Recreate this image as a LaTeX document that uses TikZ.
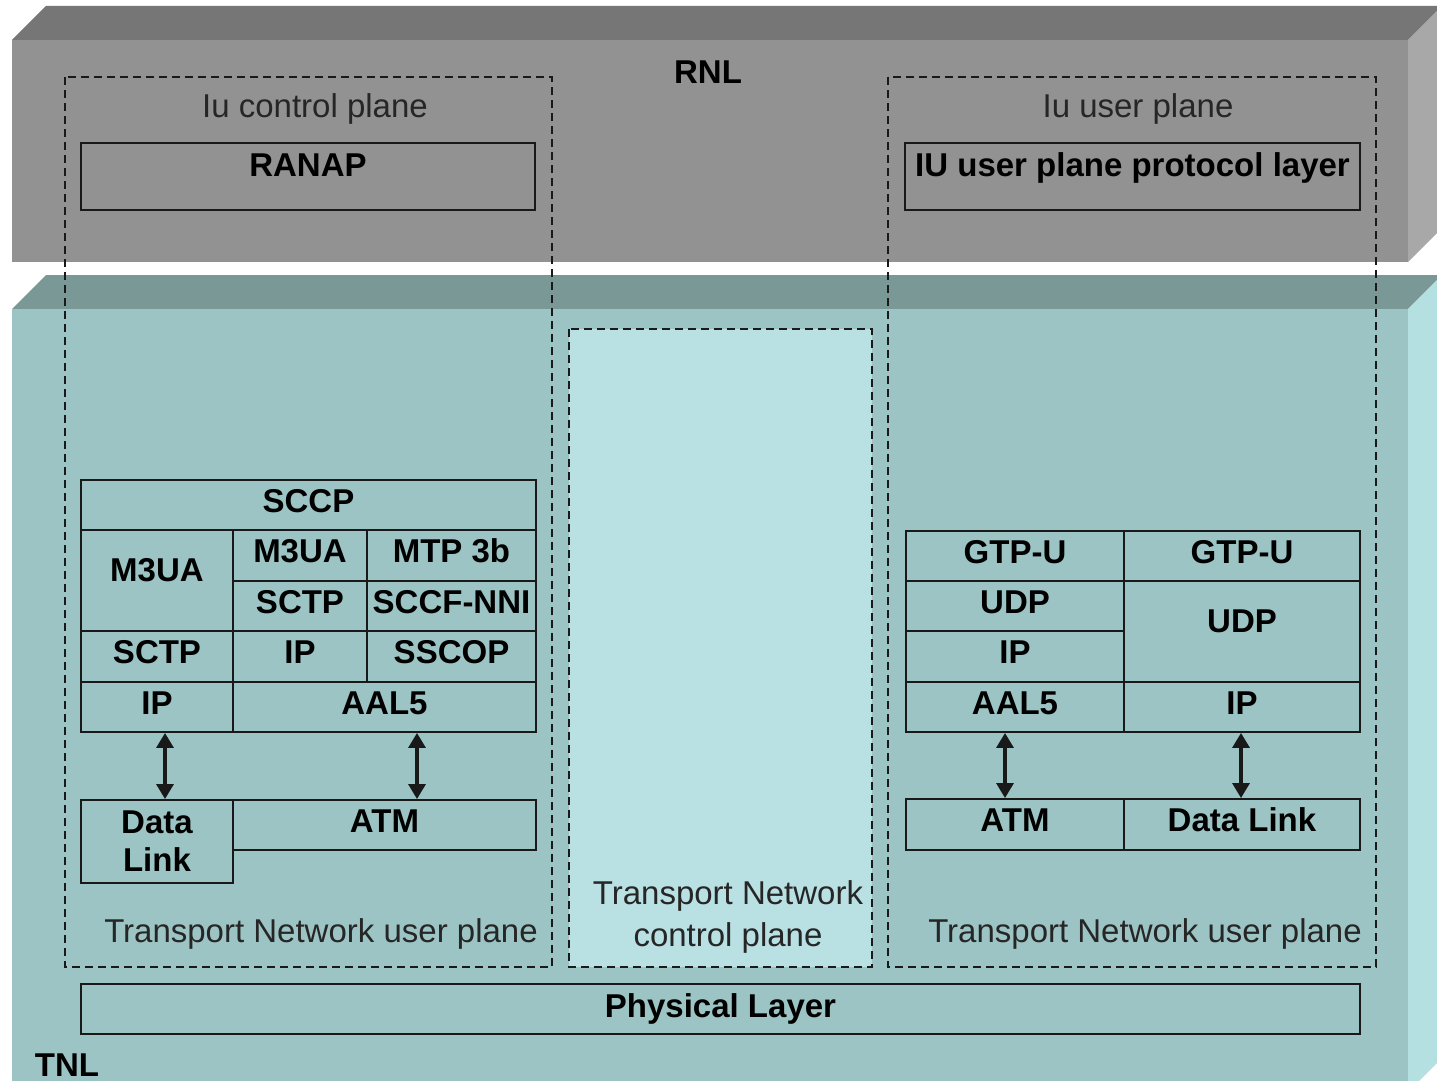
\documentclass[tikz,border=0pt]{standalone}
\usepackage{fontspec}
\setmainfont{Liberation Sans}
\usetikzlibrary{arrows.meta}
\definecolor{rnltop}{RGB}{118,118,118}
\definecolor{rnlfront}{RGB}{146,146,146}
\definecolor{rnlside}{RGB}{168,168,168}
\definecolor{tnltop}{RGB}{121,152,150}
\definecolor{tnlfront}{RGB}{156,196,196}
\definecolor{tnlside}{RGB}{180,224,226}
\definecolor{midfill}{RGB}{185,224,227}
\definecolor{edge}{RGB}{25,25,25}
\newcommand\cellbox[7][]{%
  \node[cell,#1,minimum width={#5-#3},minimum height={#6-#4}] (#2) at ({(#3+#5)/2},{(#4+#6)/2}) {#7};}
\begin{document}
\begin{tikzpicture}[x=1pt,y=-1pt,
  cell/.style={draw=edge, line width=1.9pt, inner sep=0pt,
    font=\fontsize{33}{38}\selectfont\bfseries, align=center,
    text height=24pt, text depth=10pt},
  tallcell/.style={text height=24pt, text depth=22pt},
  freetext/.style={inner sep=0pt, anchor=base, font=\fontsize{33}{42}\selectfont, text=black!85},
  boldtext/.style={inner sep=0pt, anchor=base, font=\fontsize{33}{38}\selectfont\bfseries},
  planebox/.style={draw=edge, line width=2.7pt, dash pattern=on 8pt off 5pt},
  dbl/.style={line width=3.3pt, draw=edge, {Triangle[length=15pt,width=17pt]}-{Triangle[length=15pt,width=17pt]}}
]
\useasboundingbox (0,0) rectangle (1437,1081);
\clip (0,0) rectangle (1437,1081);
\fill[white] (0,0) rectangle (1437,1081);
% RNL slab
\fill[rnltop] (12,40) -- (46,6) -- (1442,6) -- (1408,40) -- cycle;
\fill[rnlfront] (12,40) rectangle (1408,262);
\fill[rnlside] (1408,40) -- (1442,6) -- (1442,228) -- (1408,262) -- cycle;
% TNL slab
\fill[tnltop] (12,309) -- (46,275) -- (1442,275) -- (1408,309) -- cycle;
\fill[tnlfront] (12,309) rectangle (1408,1092);
\fill[tnlside] (1408,309) -- (1442,275) -- (1442,1058) -- (1408,1092) -- cycle;
% plane frames
\draw[planebox, fill=midfill] (569,329) rectangle (872,967);
\draw[planebox] (65,77) rectangle (552,967);
\draw[planebox] (888,77) rectangle (1376,967);
% layer labels
\node[boldtext] (rnl) at (708,83) {RNL};
\node[boldtext] (tnl) at (67,1076) {TNL};
\node[freetext] (iucp) at (315,117) {Iu control plane};
\node[freetext] (iuup) at (1138,117) {Iu user plane};
\node[freetext] (tnupL) at (321,942) {Transport Network user plane};
\node[freetext] (tnupR) at (1145,942) {Transport Network user plane};
\node[freetext, anchor=center, align=center] (tncp) at (728,917) {Transport Network\\control plane};
% RNL protocol boxes
\cellbox[text height=24pt, text depth=25pt]{ranap}{81}{143}{535}{210}{RANAP}
\cellbox[text height=24pt, text depth=25pt]{iuupl}{905}{143}{1360}{210}{IU user plane protocol layer}
% left stack
\cellbox{sccp}{81}{480}{536}{530}{SCCP}
\cellbox[tallcell]{m3uaA}{81}{530}{233}{631}{M3UA}
\cellbox{m3uaB}{233}{530}{367}{581}{M3UA}
\cellbox{mtp}{367}{530}{536}{581}{MTP 3b}
\cellbox{sctpB}{233}{581}{367}{631}{SCTP}
\cellbox{sccf}{367}{581}{536}{631}{SCCF-NNI}
\cellbox{sctpA}{81}{631}{233}{682}{SCTP}
\cellbox{ipB}{233}{631}{367}{682}{IP}
\cellbox{sscop}{367}{631}{536}{682}{SSCOP}
\cellbox{ipA}{81}{682}{233}{732}{IP}
\cellbox{aalL}{233}{682}{536}{732}{AAL5}
\cellbox[text height={}, text depth={}]{dlL}{81}{800}{233}{883}{Data\\Link}
\cellbox{atmL}{233}{800}{536}{850}{ATM}
% right stack
\cellbox{gtpA}{906}{531}{1124}{581}{GTP-U}
\cellbox{gtpB}{1124}{531}{1360}{581}{GTP-U}
\cellbox{udpA}{906}{581}{1124}{631}{UDP}
\cellbox{ipR}{906}{631}{1124}{682}{IP}
\cellbox[text height=24pt, text depth=23pt]{udpB}{1124}{581}{1360}{682}{UDP}
\cellbox{aalR}{906}{682}{1124}{732}{AAL5}
\cellbox{ipS}{1124}{682}{1360}{732}{IP}
\cellbox{atmR}{906}{799}{1124}{850}{ATM}
\cellbox{dlR}{1124}{799}{1360}{850}{Data Link}
% physical layer
\cellbox[text height=24pt, text depth=8pt]{phys}{81}{984}{1360}{1034}{Physical Layer}
% arrows
\draw[dbl] ([xshift=8pt]ipA.south) -- ([xshift=8pt]dlL.north);
\draw[dbl] ([xshift=32.5pt]aalL.south) -- ([xshift=32.5pt]atmL.north);
\draw[dbl] ([xshift=-10pt]aalR.south) -- ([xshift=-10pt]atmR.north);
\draw[dbl] ([xshift=-1pt]ipS.south) -- ([xshift=-1pt]dlR.north);
\end{tikzpicture}
\end{document}
